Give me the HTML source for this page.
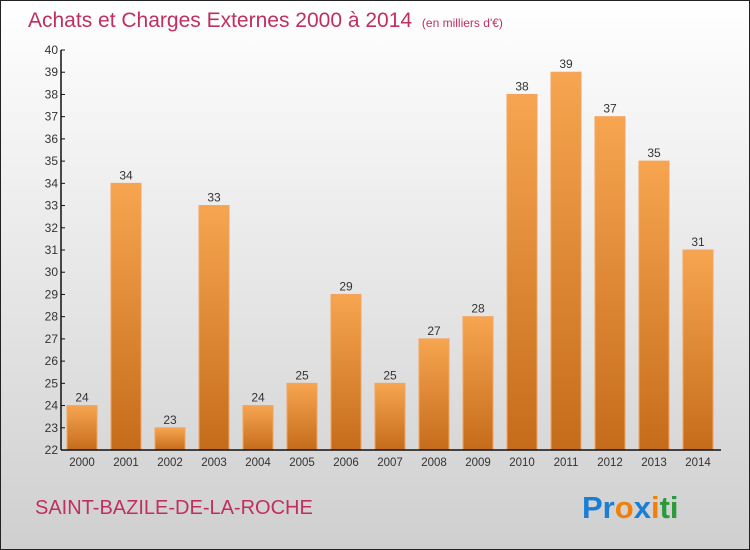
<!DOCTYPE html>
<html><head><meta charset="utf-8"><style>
body{margin:0}
#c{width:750px;height:550px;position:relative;overflow:hidden;font-family:"Liberation Sans",sans-serif}
</style></head><body>
<div id="c">
<svg width="750" height="550" id="s">
<defs>
<linearGradient id="bg" x1="0" y1="0" x2="0" y2="1"><stop offset="0" stop-color="#ffffff"/><stop offset="1" stop-color="#cfcfcf"/></linearGradient>
<linearGradient id="bar" x1="0" y1="0" x2="0" y2="1"><stop offset="0" stop-color="#f7a550"/><stop offset="1" stop-color="#c56c1a"/></linearGradient>
</defs>
<rect x="0.5" y="0.5" width="749" height="549" fill="url(#bg)" stroke="#222"/>
<text x="28" y="27" font-size="21" fill="#c0305f">Achats et Charges Externes 2000 à 2014 <tspan font-size="12" dx="4">(en milliers d'€)</tspan></text>
<g id="g"></g>
<text x="35" y="514" font-size="20" fill="#c0305f">SAINT-BAZILE-DE-LA-ROCHE</text>
<text x="582" y="518" font-size="31" font-weight="bold"><tspan fill="#1a7fd4">Pr</tspan><tspan fill="#f0800a">o</tspan><tspan fill="#1a7fd4">x</tspan><tspan fill="#f0800a">i</tspan><tspan fill="#2a9a3a">ti</tspan></text>
</svg>
</div>
<script>
const years=["2000","2001","2002","2003","2004","2005","2006","2007","2008","2009","2010","2011","2012","2013","2014"];
const values=[24,34,23,33,24,25,29,25,27,28,38,39,37,35,31];
const yTicks=[22,23,24,25,26,27,28,29,30,31,32,33,34,35,36,37,38,39,40];
const g=document.getElementById('g');const NS='http://www.w3.org/2000/svg';
const y=v=>450-(v-22)*400/18;const x=i=>82+i*44;
function el(t,a,txt){const e=document.createElementNS(NS,t);for(const k in a)e.setAttribute(k,a[k]);if(txt!=null)e.textContent=txt;g.appendChild(e);return e;}
values.forEach((v,i)=>{
 const r=el('rect',{x:x(i)-15,y:y(v),width:30,height:450-y(v),fill:'url(#bar)',stroke:'#f2a560','stroke-width':1});
 
 
 const t=el('text',{x:x(i),y:y(v)-4,'text-anchor':'middle','font-size':12,fill:'#333'},v);
 
 
 const xl=el('text',{x:x(i),y:466,'text-anchor':'middle','font-size':11.5,fill:'#333'},years[i]);
 
 
});
yTicks.forEach(v=>{
 const l=el('line',{x1:61,x2:65,y1:y(v),y2:y(v),stroke:'#111'});
 
 
 const t=el('text',{x:58,y:y(v)+4,'text-anchor':'end','font-size':12,fill:'#333'},v);
 
 
});
const ya=el('line',{x1:61,x2:61,y1:50,y2:450,stroke:'#111','stroke-width':1.5});


const xa=el('line',{x1:61,x2:721,y1:450,y2:450,stroke:'#111','stroke-width':1.5});


</script>
</body></html>
